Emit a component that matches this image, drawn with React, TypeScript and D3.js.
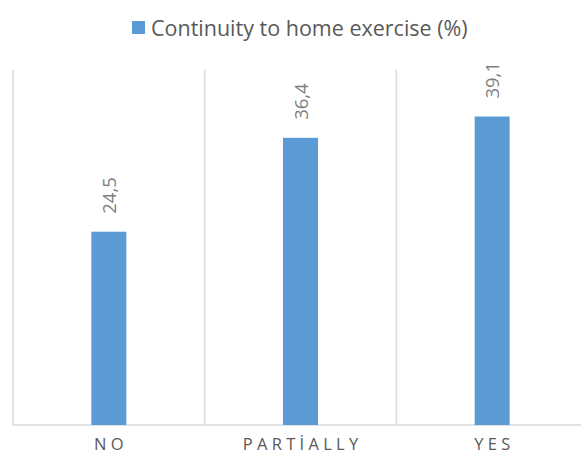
import React from "react";
import * as d3 from "d3";

const categories = ["NO", "PARTİALLY", "YES"];
const values = [24.5, 36.4, 39.1];
const valueLabels = ["24,5", "36,4", "39,1"];
const seriesName = "Continuity to home exercise (%)";

const W = 581;
const H = 455;
const margin = { left: 13, right: -7, top: 70, bottom: 30 };

export default function App() {
  const x = d3
    .scaleBand<string>()
    .domain(categories)
    .range([margin.left, W - margin.right])
    .paddingInner(0)
    .paddingOuter(0);
  const y = d3.scaleLinear().domain([0, 45]).range([H - margin.bottom, margin.top]);
  const barW = 35;
  const font = "'Open Sans', 'Noto Sans', sans-serif";
  const edges = categories.map((c) => x(c)!);
  edges.push(x(categories[categories.length - 1])! + x.bandwidth());
  const ls = 4.3;

  return (
    <div style={{ position: "fixed", left: 0, top: 0 }}>
      <svg width={W} height={H} style={{ display: "block", background: "#fff" }}>
        {edges.map((e, i) => (
          <line key={i} x1={e} x2={e} y1={y(45)} y2={y(0)} stroke="#d9d9d9" strokeWidth={1.5} />
        ))}
        <line x1={margin.left} x2={W} y1={y(0)} y2={y(0)} stroke="#d9d9d9" strokeWidth={1.5} />
        {categories.map((c, i) => {
          const cx = x(c)! + x.bandwidth() / 2;
          return (
            <g key={c}>
              <rect x={cx - barW / 2} y={y(values[i])} width={barW} height={y(0) - y(values[i])} fill="#5b9bd5" />
              <text
                transform={`translate(${cx + 7},${y(values[i]) - 18}) rotate(-90)`}
                fontFamily={font}
                fontSize={18.5}
                fill="#7f7f7f"
              >
                {valueLabels[i]}
              </text>
              <text
                x={cx + ls / 2}
                y={450}
                textAnchor="middle"
                fontFamily={font}
                fontSize={16.5}
                letterSpacing={ls}
                fill="#595959"
              >
                {c}
              </text>
            </g>
          );
        })}
        <rect x={132} y={21} width={13} height={13} fill="#5b9bd5" />
        <text x={151} y={36} fontFamily={font} fontSize={21.5} fill="#595959">
          {seriesName}
        </text>
      </svg>
    </div>
  );
}
